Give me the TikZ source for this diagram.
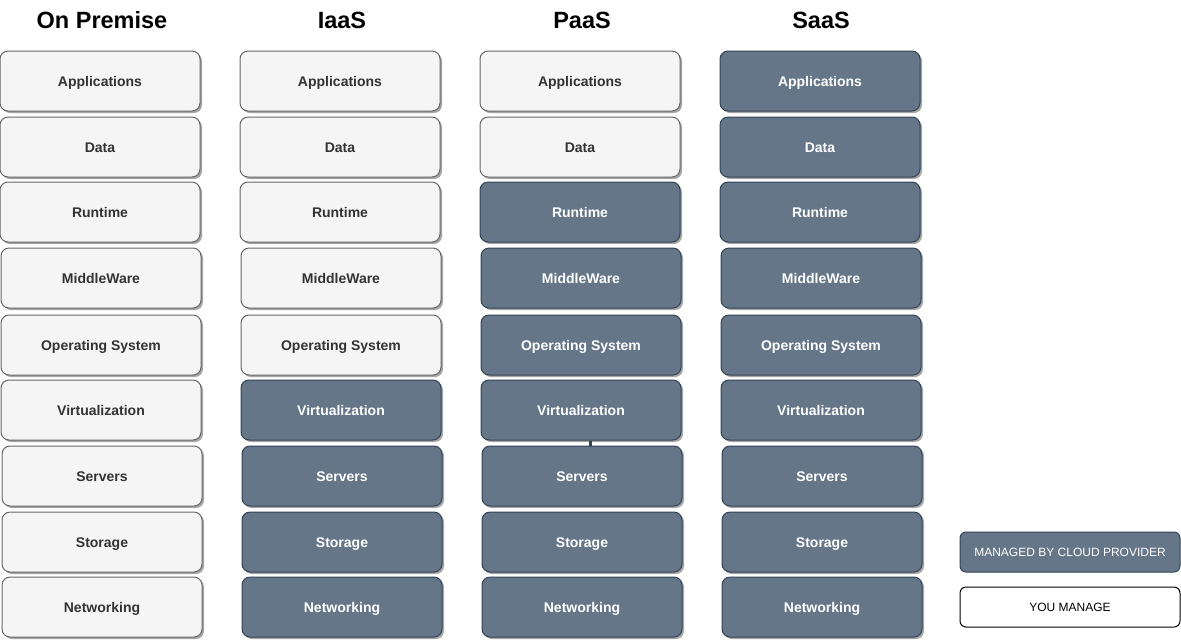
\documentclass[tikz,border=0pt]{standalone}
\usepackage{fontspec}
\setmainfont{Liberation Sans}
\usepackage[dvipsnames]{xcolor}
\usetikzlibrary{shadows}
\definecolor{slate}{HTML}{647687}
\definecolor{slateline}{HTML}{314354}
\definecolor{paper}{HTML}{F5F5F5}
\definecolor{paperline}{HTML}{666666}
\definecolor{ink}{HTML}{333333}

\begin{document}
\begin{tikzpicture}[line cap=round,line join=round, x=1pt,y=-1pt,
	layer/.style={rounded corners=8pt, minimum width=200pt, minimum height=60pt, inner sep=0pt, text height=12pt, text depth=1pt, line width=1pt, font=\bfseries\fontsize{14}{16}\selectfont, drop shadow={shadow xshift=2pt,shadow yshift=-2pt,opacity=0.35,fill=black}},
	you/.style={layer, draw=paperline, fill=paper, text=ink},
	cloud/.style={layer, draw=slateline, fill=slate, text=white},
	head/.style={font=\bfseries\fontsize{23.5}{26}\selectfont},
	key/.style={rounded corners=6pt, minimum width=220pt, minimum height=40pt, inner sep=0pt, text height=10pt, text depth=1pt, line width=1pt, font=\fontsize{12}{14}\selectfont}]
	\useasboundingbox (0,0) rectangle (1181,641);
	% column headers
	\foreach \c/\cx/\t in {onprem/102/On Premise, iaas/342/IaaS, paas/582/PaaS, saas/821/SaaS}
	\node[head] (\c-head) at (\cx,20) {\t};
	% stacks
	\foreach \c/\cx/\cut in {onprem/100/10, iaas/340/6, paas/580/3, saas/820/1}
	\foreach \r/\dx/\cy/\t in {1/0/81/Applications, 2/0/147/Data, 3/0/212/Runtime, 4/1/278/MiddleWare, 5/1/345/Operating System, 6/1/410/Virtualization, 7/2/476/Servers, 8/2/542/Storage, 9/2/607/Networking}{
		\ifnum\r<\cut \def\sty{you}\else\def\sty{cloud}\fi
		\node[\sty] (\c-\r) at (\cx+\dx,\cy) {\t};
	}
	\draw[line width=3pt, color=slateline, line cap=butt] ([xshift=9pt]paas-6.south) -- ([xshift=8pt]paas-7.north);
	% legend
	\node[key, draw=slateline, fill=slate, text=white] (managed) at (1070,552) {MANAGED BY CLOUD PROVIDER};
	\node[key, draw=black, fill=white] (yours) at (1070,607) {YOU MANAGE};
\end{tikzpicture}
\end{document}
